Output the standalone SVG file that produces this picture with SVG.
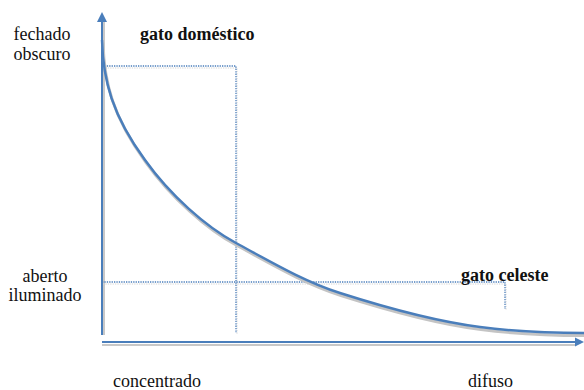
<svg xmlns="http://www.w3.org/2000/svg" width="584" height="390" viewBox="0 0 584 390">
<style>
.t{font-family:'Liberation Serif','Times New Roman',serif;font-size:18px;fill:#111}
.b{font-weight:bold}
.ax{stroke:#4a7ebb;stroke-width:2;fill:none}
.sh{stroke:#c8c8c8;stroke-width:2;fill:none}
.dot{stroke:#4a7ebb;stroke-width:1.3;stroke-dasharray:1.3 1.1;fill:none}
.dsh{stroke:#d4d4d4;stroke-width:1;stroke-dasharray:1.3 1.1;fill:none}
.crv{stroke:#4a7ebb;stroke-width:2.5;fill:none}
.csh{stroke:#c4c4c4;stroke-width:3;fill:none}
</style>
<rect width="584" height="390" fill="#fff"/>
<g id="connectors">
  <line class="sh" x1="104" y1="335" x2="104" y2="22"/>
  <line class="sh" x1="102" y1="345" x2="576" y2="345"/>
  <path class="dsh" d="M103,68 H237 V334"/>
  <path class="dsh" d="M103,284 H506 V310"/>
  <path class="dot" d="M102,66 H236 V333"/>
  <path class="dot" d="M102,282 H505 V309"/>
  <line class="ax" x1="102" y1="335" x2="102" y2="20"/>
  <polygon points="102,12 97,22 107,22" fill="#4a7ebb"/>
  <line class="ax" x1="102" y1="342" x2="576" y2="342"/>
  <polygon points="584,342 575,337.5 575,346.5" fill="#4a7ebb"/>
  <path class="csh" transform="translate(1,2.5)" d="M102,40 C103,80 112,115 145,160 C170,195 206,227 236,243 C271,262 305,282 340,293 C387,308 433,321 480,327 C515,331.5 550,333 584,333"/>
  <path class="crv" d="M102,40 C103,80 112,115 145,160 C170,195 206,227 236,243 C271,262 305,282 340,293 C387,308 433,321 480,327 C515,331.5 550,333 584,333"/>
</g>
<g id="label-fechado"><text class="t" x="42" y="40" text-anchor="middle">fechado</text><text class="t" x="42" y="60" text-anchor="middle">obscuro</text></g>
<g id="label-aberto"><text class="t" x="45" y="282" text-anchor="middle">aberto</text><text class="t" x="45" y="301" text-anchor="middle">iluminado</text></g>
<g id="node-gato-domestico"><text class="t b" x="140" y="40">gato doméstico</text></g>
<g id="node-gato-celeste"><text class="t b" x="461" y="281">gato celeste</text></g>
<g id="label-concentrado"><text class="t" x="113" y="387">concentrado</text></g>
<g id="label-difuso"><text class="t" x="468" y="387">difuso</text></g>
</svg>
